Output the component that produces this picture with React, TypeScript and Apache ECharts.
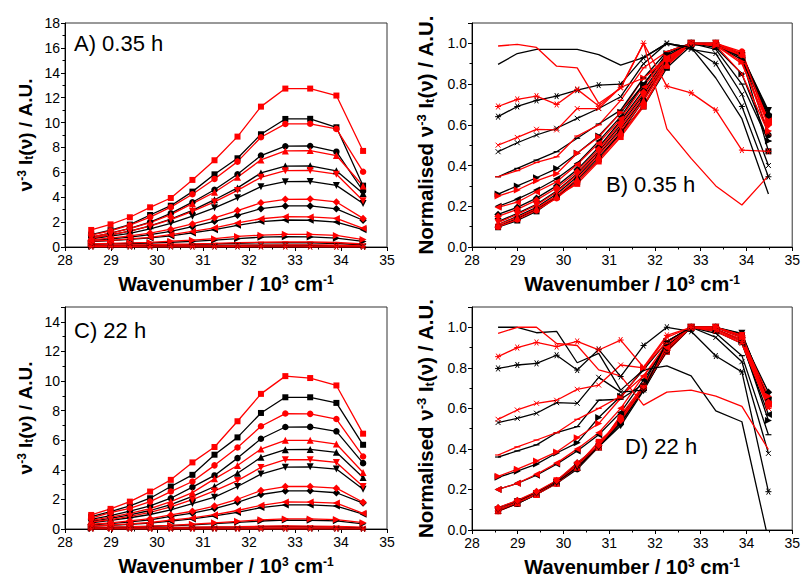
import React, { useEffect, useRef } from "react";
import * as echarts from "echarts";

// Wavenumber positions (10^3 cm^-1) shared by every panel
const WAVENUMBER = [28.57, 28.99, 29.41, 29.85, 30.3, 30.77, 31.25, 31.75, 32.26, 32.79, 33.33, 33.9, 34.48];

// marker order used by both colours (rows of the arrays below)
const MARKERS = ["square", "circle", "up", "down", "diamond", "left", "right", "dash", "cross", "star", "none"];

const X_TICKS = [28, 29, 30, 31, 32, 33, 34, 35];

// ---------- Panel A : 0.35 h, raw ----------
const A_RED = [
  [1.37, 1.82, 2.39, 3.19, 3.94, 5.39, 6.97, 8.87, 11.28, 12.73, 12.73, 12.17, 7.72],
  [0.95, 1.3, 1.75, 2.4, 3.2, 4.24, 5.47, 6.86, 8.82, 9.89, 9.9, 9.49, 6.05],
  [0.82, 1.1, 1.48, 1.95, 2.6, 3.48, 4.4, 5.6, 7.0, 7.72, 7.75, 7.35, 4.9],
  [0.72, 0.98, 1.28, 1.67, 2.2, 2.87, 3.62, 4.55, 5.6, 6.13, 6.15, 5.85, 3.72],
  [0.57, 0.72, 0.9, 1.12, 1.43, 1.85, 2.35, 2.93, 3.55, 3.83, 3.85, 3.62, 2.3],
  [0.47, 0.54, 0.66, 0.78, 0.99, 1.25, 1.54, 1.93, 2.27, 2.44, 2.42, 2.3, 1.5],
  [0.25, 0.29, 0.33, 0.37, 0.47, 0.55, 0.67, 0.85, 0.95, 1.02, 1.01, 0.93, 0.6],
  [0.14, 0.15, 0.17, 0.18, 0.22, 0.24, 0.29, 0.35, 0.38, 0.4, 0.4, 0.36, 0.24],
  [0.08, 0.09, 0.09, 0.09, 0.11, 0.11, 0.13, 0.13, 0.15, 0.16, 0.16, 0.14, 0.09],
  [0.04, 0.04, 0.04, 0.04, 0.05, 0.04, 0.05, 0.06, 0.05, 0.05, 0.04, 0.03, 0.03],
  [0.02, 0.02, 0.02, 0.018, 0.018, 0.014, 0.016, 0.02, 0.012, 0.009, 0.006, 0.004, 0.007],
];
const A_BLACK = [
  [1.0, 1.35, 1.8, 2.57, 3.32, 4.45, 5.84, 7.13, 9.06, 10.29, 10.3, 9.62, 4.93],
  [0.8, 1.12, 1.5, 2.0, 2.7, 3.6, 4.6, 5.85, 7.35, 8.1, 8.12, 7.66, 4.5],
  [0.7, 0.97, 1.28, 1.7, 2.25, 2.95, 3.8, 4.75, 5.95, 6.5, 6.52, 6.12, 4.3],
  [0.66, 0.87, 1.1, 1.45, 1.9, 2.48, 3.15, 3.95, 4.85, 5.25, 5.27, 4.95, 3.5],
  [0.53, 0.65, 0.8, 1.0, 1.26, 1.63, 2.06, 2.55, 3.08, 3.3, 3.3, 3.07, 2.15],
  [0.43, 0.51, 0.61, 0.73, 0.89, 1.13, 1.39, 1.74, 2.04, 2.17, 2.15, 2.0, 1.39],
  [0.22, 0.25, 0.28, 0.32, 0.38, 0.45, 0.55, 0.67, 0.79, 0.83, 0.81, 0.71, 0.45],
  [0.12, 0.13, 0.15, 0.16, 0.19, 0.21, 0.24, 0.29, 0.34, 0.35, 0.34, 0.28, 0.18],
  [0.07, 0.08, 0.08, 0.09, 0.1, 0.1, 0.11, 0.14, 0.15, 0.15, 0.14, 0.11, 0.06],
  [0.03, 0.035, 0.035, 0.04, 0.04, 0.04, 0.04, 0.045, 0.05, 0.05, 0.045, 0.035, 0.02],
  [0.018, 0.019, 0.019, 0.019, 0.019, 0.018, 0.017, 0.018, 0.02, 0.02, 0.016, 0.012, 0.005],
];

// ---------- Panel B : 0.35 h, normalised ----------
const B_RED = [
  [0.1, 0.14, 0.19, 0.25, 0.31, 0.42, 0.54, 0.69, 0.89, 1.0, 1.0, 0.95, 0.61],
  [0.1, 0.135, 0.18, 0.24, 0.32, 0.43, 0.55, 0.7, 0.89, 1.0, 1.0, 0.96, 0.61],
  [0.11, 0.145, 0.19, 0.25, 0.335, 0.45, 0.57, 0.72, 0.9, 1.0, 1.0, 0.95, 0.63],
  [0.12, 0.16, 0.205, 0.27, 0.355, 0.465, 0.59, 0.74, 0.91, 1.0, 1.0, 0.95, 0.61],
  [0.15, 0.185, 0.23, 0.29, 0.37, 0.48, 0.61, 0.76, 0.92, 1.0, 1.0, 0.94, 0.6],
  [0.195, 0.22, 0.27, 0.32, 0.405, 0.51, 0.63, 0.79, 0.93, 1.0, 0.99, 0.94, 0.62],
  [0.25, 0.28, 0.325, 0.36, 0.46, 0.54, 0.66, 0.83, 0.93, 1.0, 0.99, 0.91, 0.57],
  [0.345, 0.375, 0.415, 0.443, 0.545, 0.6, 0.72, 0.88, 0.96, 1.0, 0.99, 0.9, 0.6],
  [0.5, 0.538, 0.578, 0.575, 0.68, 0.68, 0.784, 0.83, 0.92, 1.0, 0.99, 0.85, 0.56],
  [0.69, 0.725, 0.741, 0.7, 0.774, 0.692, 0.784, 1.0, 0.79, 0.757, 0.672, 0.476, 0.47],
  [0.987, 0.995, 0.98, 0.888, 0.88, 0.705, 0.78, 1.0, 0.58, 0.435, 0.3, 0.206, 0.35],
];
const B_BLACK = [
  [0.097, 0.13, 0.175, 0.245, 0.32, 0.43, 0.56, 0.69, 0.88, 0.99, 1.0, 0.93, 0.47],
  [0.1, 0.14, 0.185, 0.245, 0.33, 0.44, 0.56, 0.72, 0.9, 1.0, 0.99, 0.94, 0.55],
  [0.11, 0.15, 0.195, 0.26, 0.345, 0.455, 0.58, 0.73, 0.91, 1.0, 1.0, 0.94, 0.66],
  [0.125, 0.165, 0.21, 0.275, 0.36, 0.47, 0.6, 0.75, 0.92, 1.0, 1.0, 0.94, 0.67],
  [0.16, 0.195, 0.24, 0.3, 0.38, 0.49, 0.62, 0.77, 0.93, 1.0, 0.99, 0.93, 0.65],
  [0.2, 0.235, 0.28, 0.335, 0.41, 0.52, 0.64, 0.8, 0.94, 1.0, 0.99, 0.92, 0.64],
  [0.26, 0.3, 0.34, 0.385, 0.46, 0.545, 0.66, 0.8, 0.95, 1.0, 0.98, 0.85, 0.52],
  [0.345, 0.386, 0.427, 0.468, 0.534, 0.604, 0.672, 0.83, 0.96, 1.0, 0.97, 0.8, 0.52],
  [0.468, 0.512, 0.55, 0.583, 0.632, 0.68, 0.738, 0.9, 1.0, 0.97, 0.95, 0.75, 0.4],
  [0.64, 0.69, 0.72, 0.741, 0.77, 0.795, 0.8, 0.93, 1.0, 0.98, 0.9, 0.69, 0.345],
  [0.897, 0.95, 0.97, 0.97, 0.97, 0.945, 0.893, 0.93, 1.0, 0.98, 0.83, 0.63, 0.26],
];

// ---------- Panel C : 22 h, raw ----------
const C_RED = [
  [0.95, 1.36, 1.85, 2.53, 3.32, 4.5, 5.54, 7.28, 9.13, 10.33, 10.2, 9.7, 6.44],
  [0.74, 1.1, 1.4, 1.85, 2.53, 3.21, 4.3, 5.51, 6.94, 7.8, 7.78, 7.43, 4.9],
  [0.58, 0.8, 1.05, 1.38, 1.85, 2.46, 3.39, 4.29, 5.4, 5.99, 5.99, 5.74, 3.82],
  [0.48, 0.64, 0.85, 1.12, 1.5, 1.98, 2.57, 3.27, 4.16, 4.68, 4.68, 4.5, 2.87],
  [0.32, 0.42, 0.55, 0.7, 0.95, 1.2, 1.55, 2.01, 2.6, 2.87, 2.87, 2.76, 1.81],
  [0.2, 0.27, 0.35, 0.44, 0.6, 0.75, 0.97, 1.25, 1.6, 1.83, 1.82, 1.75, 1.06],
  [0.1, 0.13, 0.16, 0.2, 0.25, 0.32, 0.42, 0.52, 0.62, 0.68, 0.68, 0.64, 0.43],
  [0.06, 0.07, 0.08, 0.09, 0.11, 0.12, 0.14, 0.16, 0.19, 0.21, 0.2, 0.18, 0.12],
  [0.035, 0.04, 0.04, 0.045, 0.05, 0.05, 0.06, 0.06, 0.07, 0.075, 0.075, 0.07, 0.045],
  [0.02, 0.02, 0.021, 0.02, 0.021, 0.02, 0.022, 0.019, 0.022, 0.023, 0.023, 0.021, 0.014],
  [0.01, 0.01, 0.01, 0.009, 0.009, 0.008, 0.008, 0.006, 0.007, 0.007, 0.007, 0.006, 0.004],
];
const C_BLACK = [
  [0.84, 1.18, 1.56, 2.08, 2.87, 3.66, 5.02, 6.19, 7.84, 8.9, 8.9, 8.52, 5.69],
  [0.65, 0.9, 1.2, 1.56, 2.08, 2.83, 3.62, 4.79, 6.1, 6.89, 6.9, 6.6, 4.45],
  [0.52, 0.72, 0.95, 1.25, 1.65, 2.2, 2.87, 3.77, 4.84, 5.36, 5.38, 5.18, 3.48],
  [0.42, 0.58, 0.76, 0.98, 1.3, 1.72, 2.15, 2.87, 3.71, 4.18, 4.2, 4.05, 2.69],
  [0.28, 0.37, 0.48, 0.62, 0.85, 1.07, 1.38, 1.8, 2.33, 2.57, 2.58, 2.45, 1.75],
  [0.18, 0.24, 0.31, 0.4, 0.53, 0.68, 0.88, 1.12, 1.45, 1.63, 1.63, 1.55, 1.0],
  [0.09, 0.11, 0.14, 0.18, 0.22, 0.28, 0.36, 0.45, 0.54, 0.6, 0.59, 0.55, 0.35],
  [0.05, 0.06, 0.07, 0.08, 0.09, 0.11, 0.12, 0.13, 0.16, 0.17, 0.16, 0.14, 0.08],
  [0.03, 0.033, 0.035, 0.038, 0.038, 0.045, 0.041, 0.041, 0.055, 0.06, 0.057, 0.05, 0.023],
  [0.016, 0.016, 0.016, 0.017, 0.016, 0.018, 0.015, 0.018, 0.02, 0.02, 0.017, 0.016, 0.004],
  [0.01, 0.01, 0.01, 0.01, 0.008, 0.009, 0.007, 0.008, 0.008, 0.008, 0.006, 0.005, -0.001],
];

// ---------- Panel D : 22 h, normalised ----------
const D_RED = [
  [0.092, 0.13, 0.18, 0.245, 0.32, 0.435, 0.535, 0.7, 0.88, 1.0, 0.99, 0.94, 0.62],
  [0.095, 0.14, 0.18, 0.24, 0.325, 0.41, 0.55, 0.71, 0.89, 1.0, 1.0, 0.95, 0.63],
  [0.097, 0.135, 0.175, 0.23, 0.31, 0.41, 0.565, 0.715, 0.9, 1.0, 1.0, 0.96, 0.64],
  [0.1, 0.137, 0.18, 0.24, 0.32, 0.423, 0.55, 0.7, 0.89, 1.0, 1.0, 0.96, 0.61],
  [0.11, 0.146, 0.19, 0.244, 0.33, 0.418, 0.54, 0.7, 0.906, 1.0, 1.0, 0.96, 0.63],
  [0.2, 0.23, 0.275, 0.33, 0.4, 0.48, 0.6, 0.76, 0.9, 1.0, 0.99, 0.94, 0.62],
  [0.265, 0.3, 0.34, 0.385, 0.455, 0.525, 0.65, 0.8, 0.93, 1.0, 1.0, 0.95, 0.66],
  [0.37, 0.41, 0.444, 0.48, 0.546, 0.6, 0.66, 0.76, 0.92, 1.0, 0.99, 0.92, 0.6],
  [0.546, 0.592, 0.625, 0.64, 0.694, 0.715, 0.814, 0.8, 0.95, 1.0, 0.98, 0.92, 0.6],
  [0.855, 0.9, 0.925, 0.905, 0.93, 0.888, 0.937, 0.803, 0.96, 1.0, 0.99, 0.93, 0.62],
  [0.97, 1.0, 1.0, 0.92, 0.91, 0.79, 0.76, 0.616, 0.68, 0.69, 0.66, 0.61, 0.397],
];
const D_BLACK = [
  [0.094, 0.13, 0.175, 0.235, 0.32, 0.41, 0.56, 0.7, 0.88, 1.0, 1.0, 0.96, 0.64],
  [0.094, 0.13, 0.175, 0.23, 0.3, 0.41, 0.525, 0.695, 0.885, 1.0, 1.0, 0.96, 0.65],
  [0.097, 0.134, 0.177, 0.233, 0.308, 0.41, 0.535, 0.703, 0.903, 1.0, 1.0, 0.966, 0.65],
  [0.1, 0.139, 0.18, 0.234, 0.31, 0.41, 0.514, 0.687, 0.888, 1.0, 1.0, 0.97, 0.64],
  [0.109, 0.144, 0.187, 0.241, 0.33, 0.416, 0.537, 0.7, 0.9, 1.0, 1.0, 0.95, 0.68],
  [0.2, 0.23, 0.27, 0.325, 0.39, 0.47, 0.58, 0.74, 0.91, 1.0, 0.98, 0.92, 0.57],
  [0.26, 0.29, 0.325, 0.38, 0.43, 0.555, 0.66, 0.79, 0.93, 1.0, 0.99, 0.93, 0.54],
  [0.36, 0.39, 0.42, 0.48, 0.51, 0.64, 0.645, 0.72, 0.93, 1.0, 0.97, 0.86, 0.47],
  [0.53, 0.551, 0.576, 0.628, 0.625, 0.753, 0.68, 0.69, 0.93, 1.0, 0.95, 0.83, 0.378],
  [0.797, 0.814, 0.822, 0.862, 0.789, 0.891, 0.757, 0.91, 1.0, 0.98, 0.858, 0.78, 0.189],
  [1.0, 1.0, 0.973, 0.98, 0.825, 0.871, 0.69, 0.79, 0.81, 0.76, 0.588, 0.534, -0.05],
];

const PANEL_LABELS = ["A) 0.35 h", "B) 0.35 h", "C) 22 h", "D) 22 h"];

const FONT = "'Liberation Sans', Arial, Helvetica, sans-serif";
const RED = "#ff0000";
const BLACK = "#000000";

const GRIDS = [
  { left: 65, top: 23, width: 322, height: 224 },
  { left: 472, top: 23, width: 322, height: 224 },
  { left: 65, top: 307, width: 322, height: 222 },
  { left: 472, top: 307, width: 322, height: 223 },
];

function markerStyle(kind: string) {
  switch (kind) {
    case "square": return { symbol: "rect", symbolSize: 6, symbolRotate: 0, stroke: 0 };
    case "circle": return { symbol: "circle", symbolSize: 6.5, symbolRotate: 0, stroke: 0 };
    case "up": return { symbol: "triangle", symbolSize: 7, symbolRotate: 0, stroke: 0 };
    case "down": return { symbol: "triangle", symbolSize: 7, symbolRotate: 180, stroke: 0 };
    case "diamond": return { symbol: "diamond", symbolSize: 7.5, symbolRotate: 0, stroke: 0 };
    case "left": return { symbol: "triangle", symbolSize: 7, symbolRotate: 90, stroke: 0 };
    case "right": return { symbol: "triangle", symbolSize: 7, symbolRotate: -90, stroke: 0 };
    case "dash": return { symbol: "rect", symbolSize: [6, 1.2], symbolRotate: 0, stroke: 0 };
    case "cross": return { symbol: "path://M0,0L10,10M10,0L0,10", symbolSize: 5, symbolRotate: 0, stroke: 1 };
    case "star": return { symbol: "path://M0,5L10,5M2,0L8,10M8,0L2,10", symbolSize: 6, symbolRotate: 0, stroke: 1 };
    default: return { symbol: "none", symbolSize: 0, symbolRotate: 0, stroke: 0 };
  }
}

function buildSeries(panel: number, rows: number[][], color: string) {
  return rows.map((vals, i) => {
    const m = markerStyle(MARKERS[i]);
    return {
      type: "line",
      xAxisIndex: panel,
      yAxisIndex: panel,
      data: WAVENUMBER.map((x, j) => [x, vals[j]]),
      symbol: m.symbol,
      symbolSize: m.symbolSize,
      symbolRotate: m.symbolRotate,
      showSymbol: m.symbol !== "none",
      lineStyle: { color, width: 1.3 },
      itemStyle: { color, borderColor: color, borderWidth: m.stroke },
      silent: true,
      clip: true,
    };
  });
}

function richName(size: number) {
  const s = Math.round(size * 0.62);
  return {
    sup: { fontSize: s, fontWeight: "bold", fontFamily: FONT, verticalAlign: "top", color: "#000" },
    sub: { fontSize: s, fontWeight: "bold", fontFamily: FONT, verticalAlign: "bottom", color: "#000" },
  };
}

function xAxis(panel: number) {
  return {
    type: "value",
    gridIndex: panel,
    min: 28,
    max: 35,
    interval: 1,
    axisLine: { show: true, lineStyle: { color: "#000", width: 1 } },
    axisTick: { show: true, inside: false, length: 4, lineStyle: { color: "#000" } },
    minorTick: { show: true, splitNumber: 2, length: 2.5, lineStyle: { color: "#000" } },
    splitLine: { show: false },
    axisLabel: {
      fontSize: 14, color: "#000", fontFamily: FONT, margin: 6,
      formatter: (v: number) => (X_TICKS.includes(v) ? String(v) : ""),
    },
    name: "Wavenumber / 10{sup|3} cm{sup|-1}",
    nameLocation: "middle",
    nameGap: 27,
    nameTextStyle: { fontSize: 20, fontWeight: "bold", fontFamily: FONT, color: "#000", rich: richName(20) },
  };
}

function yAxis(panel: number, max: number, interval: number, decimals: number, name: string, nameGap: number, nameSize: number) {
  return {
    type: "value",
    gridIndex: panel,
    min: 0,
    max,
    interval,
    axisLine: { show: true, lineStyle: { color: "#000", width: 1 } },
    axisTick: { show: true, inside: false, length: 4, lineStyle: { color: "#000" } },
    minorTick: { show: true, splitNumber: 2, length: 2.5, lineStyle: { color: "#000" } },
    splitLine: { show: false },
    axisLabel: {
      fontSize: 14, color: "#000", fontFamily: FONT, margin: 5,
      showMaxLabel: max === 18,
      formatter: (v: number) => v.toFixed(decimals),
    },
    name,
    nameLocation: "middle",
    nameGap,
    nameRotate: 90,
    nameTextStyle: { fontSize: nameSize, fontWeight: "bold", fontFamily: FONT, color: "#000", rich: richName(nameSize) },
  };
}

const PANEL_LABEL_POS = [
  { x: 74, y: 32 },
  { x: 606, y: 173 },
  { x: 74, y: 319 },
  { x: 625, y: 435 },
];

export default function App() {
  const ref = useRef<HTMLDivElement>(null);
  useEffect(() => {
    document.body.style.margin = "0";
    if (!ref.current) return;
    const chart = echarts.init(ref.current, undefined, { renderer: "svg" });
    const rawName = "ν{sup|-3} I{sub|t}(ν) / A.U.";
    const normName = "Normalised ν{sup|-3} I{sub|t}(ν) / A.U.";
    const option = {
      animation: false,
      backgroundColor: "#ffffff",
      grid: GRIDS.map((g) => ({ ...g, show: true, borderColor: "#333", borderWidth: 1, backgroundColor: "transparent", containLabel: false })),
      xAxis: [0, 1, 2, 3].map((p) => xAxis(p)),
      yAxis: [
        yAxis(0, 18, 2, 0, rawName, 30, 19),
        yAxis(1, 1.1, 0.2, 1, normName, 36, 20.5),
        yAxis(2, 15, 2, 0, rawName, 30, 19),
        yAxis(3, 1.1, 0.2, 1, normName, 36, 20.5),
      ],
      graphic: PANEL_LABELS.map((t, i) => ({
        type: "text",
        x: PANEL_LABEL_POS[i].x,
        y: PANEL_LABEL_POS[i].y,
        z: 100,
        style: { text: t, fontSize: 22, fontFamily: FONT, fill: "#000", verticalAlign: "top", align: "left" },
      })),
      series: [
        ...interleave(buildSeries(0, A_BLACK, BLACK), buildSeries(0, A_RED, RED)),
        ...interleave(buildSeries(1, B_BLACK, BLACK), buildSeries(1, B_RED, RED)),
        ...interleave(buildSeries(2, C_BLACK, BLACK), buildSeries(2, C_RED, RED)),
        ...interleave(buildSeries(3, D_BLACK, BLACK), buildSeries(3, D_RED, RED)),
      ],
    };
    chart.setOption(option as any);
    return () => chart.dispose();
  }, []);
  return <div ref={ref} style={{ width: 803, height: 581, position: "absolute", left: 0, top: 0 }} />;
}

function interleave(a: any[], b: any[]) {
  const out: any[] = [];
  for (let i = 0; i < Math.max(a.length, b.length); i++) {
    if (a[i]) out.push(a[i]);
    if (b[i]) out.push(b[i]);
  }
  return out;
}
